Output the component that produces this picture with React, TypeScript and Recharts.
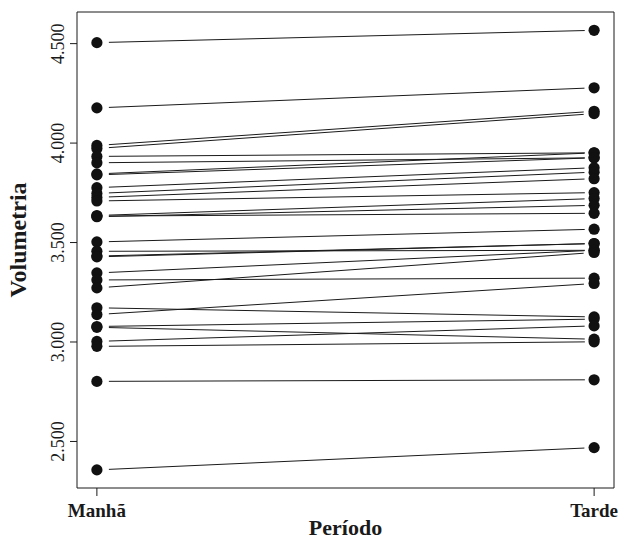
import React from "react";
import {
  ComposedChart,
  Line,
  Scatter,
  XAxis,
  YAxis,
  ReferenceArea,
} from "recharts";

// Categories (x positions 1 and 2)
const categories = ["Manhã", "Tarde"];
const yTicks = [2500, 3000, 3500, 4000, 4500];
const yTickLabels = ["2.500", "3.000", "3.500", "4.000", "4.500"];

// Paired values, same index = same subject
const manha = [
  4505, 4177, 3988, 3973, 3933, 3901, 3845, 3840, 3776, 3747, 3727, 3709,
  3636, 3630, 3633, 3503, 3456, 3432, 3428, 3347, 3312, 3272, 3172, 3138,
  3078, 3074, 3003, 2978, 2802, 2357,
];
const tarde = [
  4567, 4278, 4160, 4148, 3951, 3926, 3951, 3926, 3876, 3854, 3821, 3751,
  3721, 3687, 3647, 3567, 3461, 3495, 3495, 3461, 3321, 3450, 3126, 3294,
  3115, 3014, 3081, 3001, 2810, 2469,
];

const FONT = "'Liberation Serif', 'Times New Roman', serif";
const INK = "#1a1a1a";

const W = 624;
const H = 541;

const XTick = (props: any) => {
  const { x, y, payload } = props;
  return (
    <text
      x={x}
      y={y}
      dy="0.71em"
      textAnchor="middle"
      fontFamily={FONT}
      fontWeight="bold"
      fontSize={19}
      fill={INK}
    >
      {categories[payload.value - 1]}
    </text>
  );
};

const YTick = (props: any) => {
  const { x, y, payload } = props;
  const idx = yTicks.indexOf(payload.value);
  return (
    <text
      x={x}
      y={y}
      transform={`rotate(-90, ${x}, ${y})`}
      textAnchor="middle"
      fontFamily={FONT}
      fontSize={18}
      fill={INK}
    >
      {idx >= 0 ? yTickLabels[idx] : payload.value}
    </text>
  );
};

export default function App() {
  const pairs = manha.map((m, i) => [
    { x: 1, y: m },
    { x: 2, y: tarde[i] },
  ]);
  const ptsM = manha.map((v) => ({ x: 1, y: v }));
  const ptsT = tarde.map((v) => ({ x: 2, y: v }));

  return (
    <div style={{ width: W, height: H }}>
      <style>{`html,body{margin:0;padding:0;overflow:hidden;}`}</style>
      <ComposedChart
        width={W}
        height={H}
        margin={{ top: 12, right: 10, left: 0, bottom: 0 }}
      >
        <XAxis
          type="number"
          dataKey="x"
          domain={[0.96, 2.04]}
          ticks={[1, 2]}
          allowDataOverflow
          axisLine={false}
          tickSize={8}
          tickMargin={8}
          tickLine={{ stroke: INK }}
          tick={<XTick />}
          height={53}
          label={(p: any) => {
            const vb = p.viewBox;
            return (
              <text
                x={vb.x + vb.width / 2}
                y={vb.y + 47}
                textAnchor="middle"
                fontFamily={FONT}
                fontWeight="bold"
                fontSize={22}
                fill={INK}
              >
                Período
              </text>
            );
          }}
        />
        <YAxis
          type="number"
          dataKey="y"
          domain={[2266, 4659]}
          ticks={yTicks}
          allowDataOverflow
          axisLine={false}
          tickSize={7}
          tickMargin={6}
          tickLine={{ stroke: INK }}
          tick={<YTick />}
          width={77}
          label={(p: any) => {
            const vb = p.viewBox;
            const cx = vb.x + 26;
            const cy = vb.y + vb.height / 2 - 10;
            return (
              <text
                x={cx}
                y={cy}
                transform={`rotate(-90, ${cx}, ${cy})`}
                textAnchor="middle"
                fontFamily={FONT}
                fontWeight="bold"
                fontSize={24}
                fill={INK}
              >
                Volumetria
              </text>
            );
          }}
        />
        <ReferenceArea
          x1={0.96}
          x2={2.04}
          y1={2266}
          y2={4659}
          fill="none"
          stroke={INK}
          strokeWidth={1}
          fillOpacity={0}
          ifOverflow="visible"
        />
        {pairs.map((d, i) => (
          <Line
            key={"l" + i}
            data={d}
            dataKey="y"
            type="linear"
            stroke={INK}
            strokeWidth={1}
            strokeDasharray="0 12 476 1000"
            dot={false}
            activeDot={false}
            isAnimationActive={false}
            legendType="none"
          />
        ))}
        <Scatter
          data={ptsM}
          fill="#111"
          isAnimationActive={false}
          shape={(p: any) => <circle cx={p.cx} cy={p.cy} r={5.6} fill="#111" />}
        />
        <Scatter
          data={ptsT}
          fill="#111"
          isAnimationActive={false}
          shape={(p: any) => <circle cx={p.cx} cy={p.cy} r={5.6} fill="#111" />}
        />
      </ComposedChart>
    </div>
  );
}
